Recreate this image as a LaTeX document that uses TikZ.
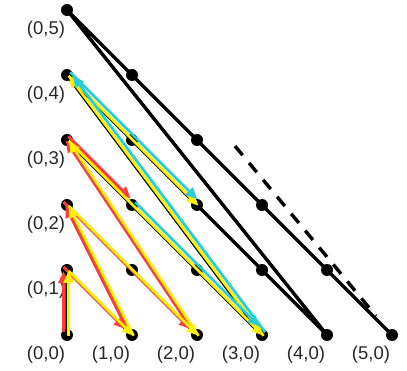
\documentclass[tikz,border=0pt]{standalone}
\usepackage{fontspec}
\setmainfont{Liberation Sans}
\usetikzlibrary{arrows.meta}
\definecolor{ared}{RGB}{250,62,62}
\definecolor{ayel}{RGB}{255,240,0}
\definecolor{acyan}{RGB}{40,205,215}
\begin{document}
\begin{tikzpicture}[x=1pt,y=-1pt,
  dot/.style={circle,fill=black,inner sep=0pt,minimum size=12pt},
  lbl/.style={font=\fontsize{18.5}{18.5}\selectfont,text=black!85},
  mainpath/.style={line width=3.4pt,line join=round},
  tip/.style={-{Triangle[length=12pt,width=10pt]}},
  yarr/.style={tip,ayel,line width=2.6pt},
  rarr/.style={tip,ared,line width=3pt,shorten >=4pt},
  carr/.style={tip,acyan,line width=2.8pt,shorten >=4pt},
  dashline/.style={line width=3.4pt,dash pattern=on 12pt off 10pt}]
\useasboundingbox (0,0) rectangle (407,371);
\foreach \i in {0,...,5}{
  \foreach \j in {0,...,5}{
    \pgfmathtruncatemacro\s{\i+\j}
    \ifnum\s<6 \coordinate (c\i\j) at ({67+65*\i},{335-65*\j}); \fi
  }
}
% main black zigzag
\draw[mainpath] (c00) -- (c01) -- (c10) -- (c02) -- (c20) -- (c03) -- (c30)
  -- (c04) -- (c40) -- (c05) -- (c50);
% dashed continuation
\coordinate (d1) at (235,146);
\coordinate (d2) at (376,316);
\draw[dashline] (d1) -- (d2);
% dots
\foreach \i in {0,...,5}{
  \foreach \j in {0,...,5}{
    \pgfmathtruncatemacro\s{\i+\j}
    \ifnum\s<6 \node[dot] (p\i\j) at (c\i\j) {}; \fi
  }
}
% labels
\foreach \j in {0,...,5}{ \node[lbl] (ly\j) at ([shift={(-21,20)}]c0\j) {(0,\j)}; }
\foreach \i in {1,...,5}{ \node[lbl] (lx\i) at ([shift={(-21,20)}]c\i0) {(\i,0)}; }
% red arrows
\foreach \a/\b in {00/01,01/10,10/02,02/20,20/03}{
  \draw[rarr] ([shift={(-3.5,-3)}]c\a) -- ([shift={(-3.5,-3)}]c\b);
}
\draw[rarr] ([shift={(1.5,-3.5)}]c03) -- ([shift={(1.5,-3.5)}]c12);
% yellow arrows
\foreach \a/\b in {00/01,01/10,10/02,02/20,20/03,03/30,30/04,04/22}{
  \draw[yarr] ([shift={(1.6,0.8)}]c\a) -- ([shift={(1.6,0.8)}]c\b);
}
% cyan arrows
\draw[carr,shorten >=8pt] ([shift={(3.2,-2.8)}]c12) -- ([shift={(3.2,-2.8)}]c30);
\draw[carr] ([shift={(3.2,-2.8)}]c30) -- ([shift={(3.2,-2.8)}]c04);
\draw[carr] ([shift={(3.2,-2.8)}]c04) -- ([shift={(3.2,-2.8)}]c22);
\end{tikzpicture}
\end{document}
